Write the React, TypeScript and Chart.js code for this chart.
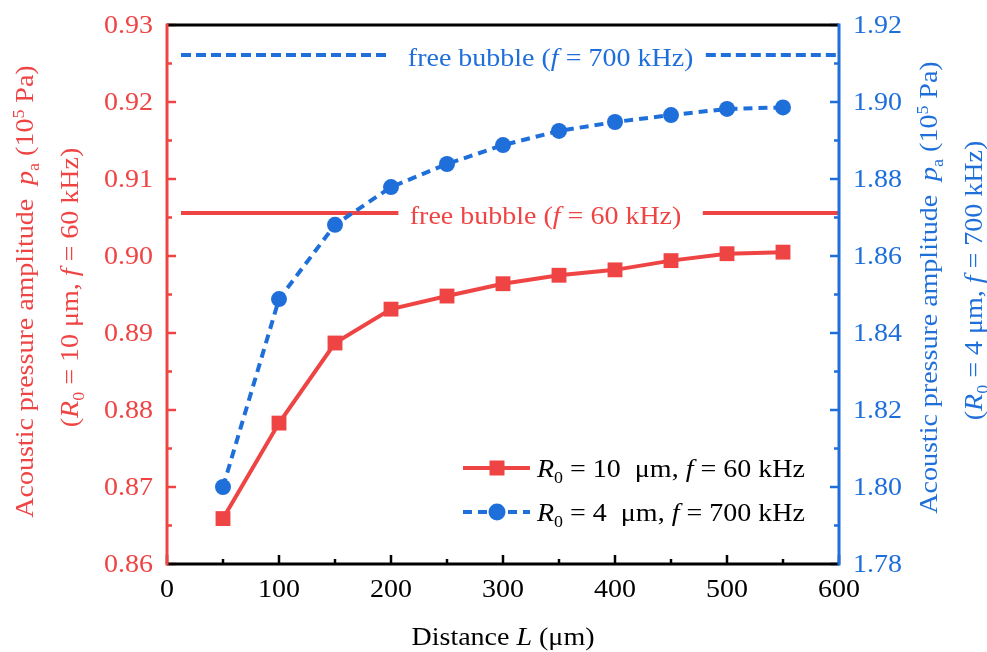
import { useEffect, useRef } from 'react';
import { Chart, registerables } from 'chart.js';

Chart.register(...registerables);

// ---------- data ----------
const distances = [50, 100, 150, 200, 250, 300, 350, 400, 450, 500, 550];
const redValues = [0.8659, 0.8783, 0.8887, 0.8931, 0.8948, 0.8964, 0.8975, 0.8982, 0.8994, 0.9003, 0.9005];
const blueValues = [1.8, 1.8488, 1.8681, 1.8779, 1.8839, 1.8888, 1.8925, 1.8948, 1.8966, 1.8982, 1.8986];

const freeRedLevel = 0.9056;
const freeBlueLevel = 1.9122;
const freeRedSegments = [[12.5, 206.6], [478.4, 600]];
const freeBlueSegments = [[12.5, 196.7], [481.1, 600]];
const freeRedLabelX = 338;
const freeBlueLabelX = 342.5;

const xTickValues = [0, 100, 200, 300, 400, 500, 600];
const leftTickValues = [0.86, 0.87, 0.88, 0.89, 0.9, 0.91, 0.92, 0.93];
const rightTickValues = [1.78, 1.8, 1.82, 1.84, 1.86, 1.88, 1.9, 1.92];
const xMinorValues = [50, 150, 250, 350, 450, 550];
const leftMinorValues = [0.865, 0.875, 0.885, 0.895, 0.905, 0.915, 0.925];
const rightMinorValues = [1.79, 1.81, 1.83, 1.85, 1.87, 1.89, 1.91];

const RED = '#EF4444';
const BLUE = '#1F6FDB';
const FONT = '"Liberation Serif", "Times New Roman", Tinos, serif';
const SIZE = 25;
const STRETCH = 1.12;

type Seg = { t: string; i?: boolean; sub?: boolean; sup?: boolean };

function segFont(s: Seg) {
  const sz = s.sub || s.sup ? SIZE * 0.64 : SIZE;
  return `${s.i ? 'italic ' : ''}${sz}px ${FONT}`;
}

function drawRich(
  ctx: CanvasRenderingContext2D,
  segs: Seg[],
  x: number,
  y: number,
  align: 'left' | 'center' | 'right',
  rot: number,
  color: string
) {
  ctx.save();
  ctx.translate(x, y);
  ctx.rotate(rot);
  ctx.scale(STRETCH, 1);
  ctx.fillStyle = color;
  ctx.textBaseline = 'alphabetic';
  ctx.textAlign = 'left';
  const widths = segs.map((s) => {
    ctx.font = segFont(s);
    return ctx.measureText(s.t).width;
  });
  const total = widths.reduce((a, b) => a + b, 0);
  let cx = align === 'left' ? 0 : align === 'center' ? -total / 2 : -total;
  segs.forEach((s, k) => {
    ctx.font = segFont(s);
    const dy = s.sub ? SIZE * 0.22 : s.sup ? -SIZE * 0.38 : 0;
    ctx.fillText(s.t, cx, dy);
    cx += widths[k];
  });
  ctx.restore();
}

const leftTitle1: Seg[] = [
  { t: 'Acoustic pressure amplitude  ' },
  { t: 'p', i: true },
  { t: 'a', sub: true },
  { t: ' (10' },
  { t: '5', sup: true },
  { t: ' Pa)' },
];
const leftTitle2: Seg[] = [
  { t: '(' },
  { t: 'R', i: true },
  { t: '0', sub: true },
  { t: ' = 10 μm, ' },
  { t: 'f', i: true },
  { t: ' = 60 kHz)' },
];
const rightTitle2: Seg[] = [
  { t: '(' },
  { t: 'R', i: true },
  { t: '0', sub: true },
  { t: ' = 4 μm, ' },
  { t: 'f', i: true },
  { t: ' = 700 kHz)' },
];
const xTitle: Seg[] = [{ t: 'Distance ' }, { t: 'L', i: true }, { t: ' (μm)' }];
const legendRed: Seg[] = [
  { t: 'R', i: true },
  { t: '0', sub: true },
  { t: ' = 10  μm, ' },
  { t: 'f', i: true },
  { t: ' = 60 kHz' },
];
const legendBlue: Seg[] = [
  { t: 'R', i: true },
  { t: '0', sub: true },
  { t: ' = 4  μm, ' },
  { t: 'f', i: true },
  { t: ' = 700 kHz' },
];
const freeRedLabel: Seg[] = [{ t: 'free bubble (' }, { t: 'f', i: true }, { t: ' = 60 kHz)' }];
const freeBlueLabel: Seg[] = [{ t: 'free bubble (' }, { t: 'f', i: true }, { t: ' = 700 kHz)' }];

function segmentData(segs: number[][], level: number) {
  const out: { x: number; y: number | null }[] = [];
  segs.forEach((s, k) => {
    if (k > 0) out.push({ x: (segs[k - 1][1] + s[0]) / 2, y: null });
    out.push({ x: s[0], y: level });
    out.push({ x: s[1], y: level });
  });
  return out;
}

const decorPlugin = {
  id: 'decor',
  afterDraw(chart: any) {
    const ctx: CanvasRenderingContext2D = chart.ctx;
    const ca = chart.chartArea;
    const xs = chart.scales.x;
    const yl = chart.scales.yL;
    const yr = chart.scales.yR;
    ctx.save();
    ctx.lineWidth = 2.5;
    const tick = (x1: number, y1: number, x2: number, y2: number, c: string) => {
      ctx.strokeStyle = c;
      ctx.beginPath();
      ctx.moveTo(x1, y1);
      ctx.lineTo(x2, y2);
      ctx.stroke();
    };
    xTickValues.forEach((v) => {
      const p = xs.getPixelForValue(v);
      tick(p, ca.bottom, p, ca.bottom - 9, '#000');
    });
    xMinorValues.forEach((v) => {
      const p = xs.getPixelForValue(v);
      tick(p, ca.bottom, p, ca.bottom - 5, '#000');
    });
    leftTickValues.forEach((v) => {
      const p = yl.getPixelForValue(v);
      tick(ca.left, p, ca.left + 9, p, RED);
    });
    leftMinorValues.forEach((v) => {
      const p = yl.getPixelForValue(v);
      tick(ca.left, p, ca.left + 5, p, RED);
    });
    rightTickValues.forEach((v) => {
      const p = yr.getPixelForValue(v);
      tick(ca.right, p, ca.right - 9, p, BLUE);
    });
    rightMinorValues.forEach((v) => {
      const p = yr.getPixelForValue(v);
      tick(ca.right, p, ca.right - 5, p, BLUE);
    });
    ctx.lineWidth = 3;
    tick(ca.left, ca.top, ca.right, ca.top, '#000');
    tick(ca.left, ca.bottom, ca.right, ca.bottom, '#000');
    tick(ca.left, ca.top - 1.5, ca.left, ca.bottom + 1.5, RED);
    tick(ca.right, ca.top - 1.5, ca.right, ca.bottom + 1.5, BLUE);

    xTickValues.forEach((v) => {
      drawRich(ctx, [{ t: String(v) }], xs.getPixelForValue(v), ca.bottom + 33, 'center', 0, '#000');
    });
    leftTickValues.forEach((v) => {
      drawRich(ctx, [{ t: v.toFixed(2) }], ca.left - 14, yl.getPixelForValue(v) + 8, 'right', 0, RED);
    });
    rightTickValues.forEach((v) => {
      drawRich(ctx, [{ t: v.toFixed(2) }], ca.right + 14, yr.getPixelForValue(v) + 8, 'left', 0, BLUE);
    });

    const midY = (ca.top + ca.bottom) / 2;
    drawRich(ctx, leftTitle1, 33, midY - 3, 'center', -Math.PI / 2, RED);
    drawRich(ctx, leftTitle2, 78, midY - 7, 'center', -Math.PI / 2, RED);
    drawRich(ctx, leftTitle1, 937, midY - 7, 'center', -Math.PI / 2, BLUE);
    drawRich(ctx, rightTitle2, 982, midY - 14, 'center', -Math.PI / 2, BLUE);
    drawRich(ctx, xTitle, (ca.left + ca.right) / 2, ca.bottom + 81, 'center', 0, '#000');

    drawRich(ctx, freeRedLabel, xs.getPixelForValue(freeRedLabelX), yl.getPixelForValue(freeRedLevel) + 11, 'center', 0, RED);
    drawRich(ctx, freeBlueLabel, xs.getPixelForValue(freeBlueLabelX), yr.getPixelForValue(freeBlueLevel) + 11, 'center', 0, BLUE);

    const lx1 = 463, lx2 = 530, lm = 497, tx = 537;
    const ry = 468, by = 512;
    ctx.lineWidth = 4;
    ctx.setLineDash([]);
    tick(lx1, ry, lx2, ry, RED);
    ctx.fillStyle = RED;
    ctx.fillRect(lm - 7.5, ry - 7.5, 15, 15);
    ctx.setLineDash([9, 6]);
    tick(lx1, by, lx2, by, BLUE);
    ctx.setLineDash([]);
    ctx.fillStyle = BLUE;
    ctx.beginPath();
    ctx.arc(lm, by, 8.5, 0, Math.PI * 2);
    ctx.fill();
    drawRich(ctx, legendRed, tx, ry + 9, 'left', 0, '#000');
    drawRich(ctx, legendBlue, tx, by + 9, 'left', 0, '#000');
    ctx.restore();
  },
};

export default function App() {
  const ref = useRef<HTMLCanvasElement | null>(null);
  useEffect(() => {
    if (!ref.current) return;
    let alive = true;
    const chart = new Chart(ref.current, {
      type: 'line',
      data: {
        datasets: [
          {
            label: 'R0 = 10 μm, f = 60 kHz',
            data: distances.map((d, k) => ({ x: d, y: redValues[k] })),
            yAxisID: 'yL',
            borderColor: RED,
            backgroundColor: RED,
            borderWidth: 4,
            pointStyle: 'rect',
            pointRadius: 10.5,
            pointBorderWidth: 0,
            pointBackgroundColor: RED,
            order: 0,
          },
          {
            label: 'R0 = 4 μm, f = 700 kHz',
            data: distances.map((d, k) => ({ x: d, y: blueValues[k] })),
            yAxisID: 'yR',
            borderColor: BLUE,
            backgroundColor: BLUE,
            borderWidth: 4,
            borderDash: [9, 6],
            pointStyle: 'circle',
            pointRadius: 8,
            pointBorderWidth: 0,
            pointBackgroundColor: BLUE,
            order: 0,
          },
          {
            label: 'free red',
            data: segmentData(freeRedSegments, freeRedLevel),
            yAxisID: 'yL',
            borderColor: RED,
            borderWidth: 4,
            pointRadius: 0,
            spanGaps: false,
            order: 1,
          },
          {
            label: 'free blue',
            data: segmentData(freeBlueSegments, freeBlueLevel),
            yAxisID: 'yR',
            borderColor: BLUE,
            borderWidth: 4,
            borderDash: [10, 5],
            pointRadius: 0,
            spanGaps: false,
            order: 1,
          },
        ] as any,
      },
      options: {
        animation: false,
        responsive: false,
        maintainAspectRatio: false,
        layout: { padding: { top: 25, left: 0, right: 0, bottom: 0 } },
        plugins: { legend: { display: false }, tooltip: { enabled: false } },
        scales: {
          x: {
            type: 'linear',
            min: 0,
            max: 600,
            ticks: { display: false, stepSize: 100 },
            grid: { display: false, drawTicks: false },
            border: { display: false },
            afterFit: (s: any) => {
              s.height = 88;
            },
          },
          yL: {
            type: 'linear',
            position: 'left',
            min: 0.86,
            max: 0.93,
            ticks: { display: false, stepSize: 0.01 },
            grid: { display: false, drawTicks: false },
            border: { display: false },
            afterFit: (s: any) => {
              s.width = 167;
            },
          },
          yR: {
            type: 'linear',
            position: 'right',
            min: 1.78,
            max: 1.92,
            ticks: { display: false, stepSize: 0.02 },
            grid: { display: false, drawTicks: false },
            border: { display: false },
            afterFit: (s: any) => {
              s.width = 148;
            },
          },
        },
      } as any,
      plugins: [decorPlugin],
    });
    const fonts = (document as any).fonts;
    if (fonts && fonts.load) {
      Promise.all([
        fonts.load(`25px "Liberation Serif"`),
        fonts.load(`italic 25px "Liberation Serif"`),
      ])
        .then(() => {
          if (alive) chart.draw();
        })
        .catch(() => {});
    }
    return () => {
      alive = false;
      chart.destroy();
    };
  }, []);
  return (
    <div style={{ position: 'fixed', left: 0, top: 0, width: 987, height: 652, background: '#fff' }}>
      <canvas ref={ref} width={987} height={652} style={{ display: 'block' }} />
    </div>
  );
}
